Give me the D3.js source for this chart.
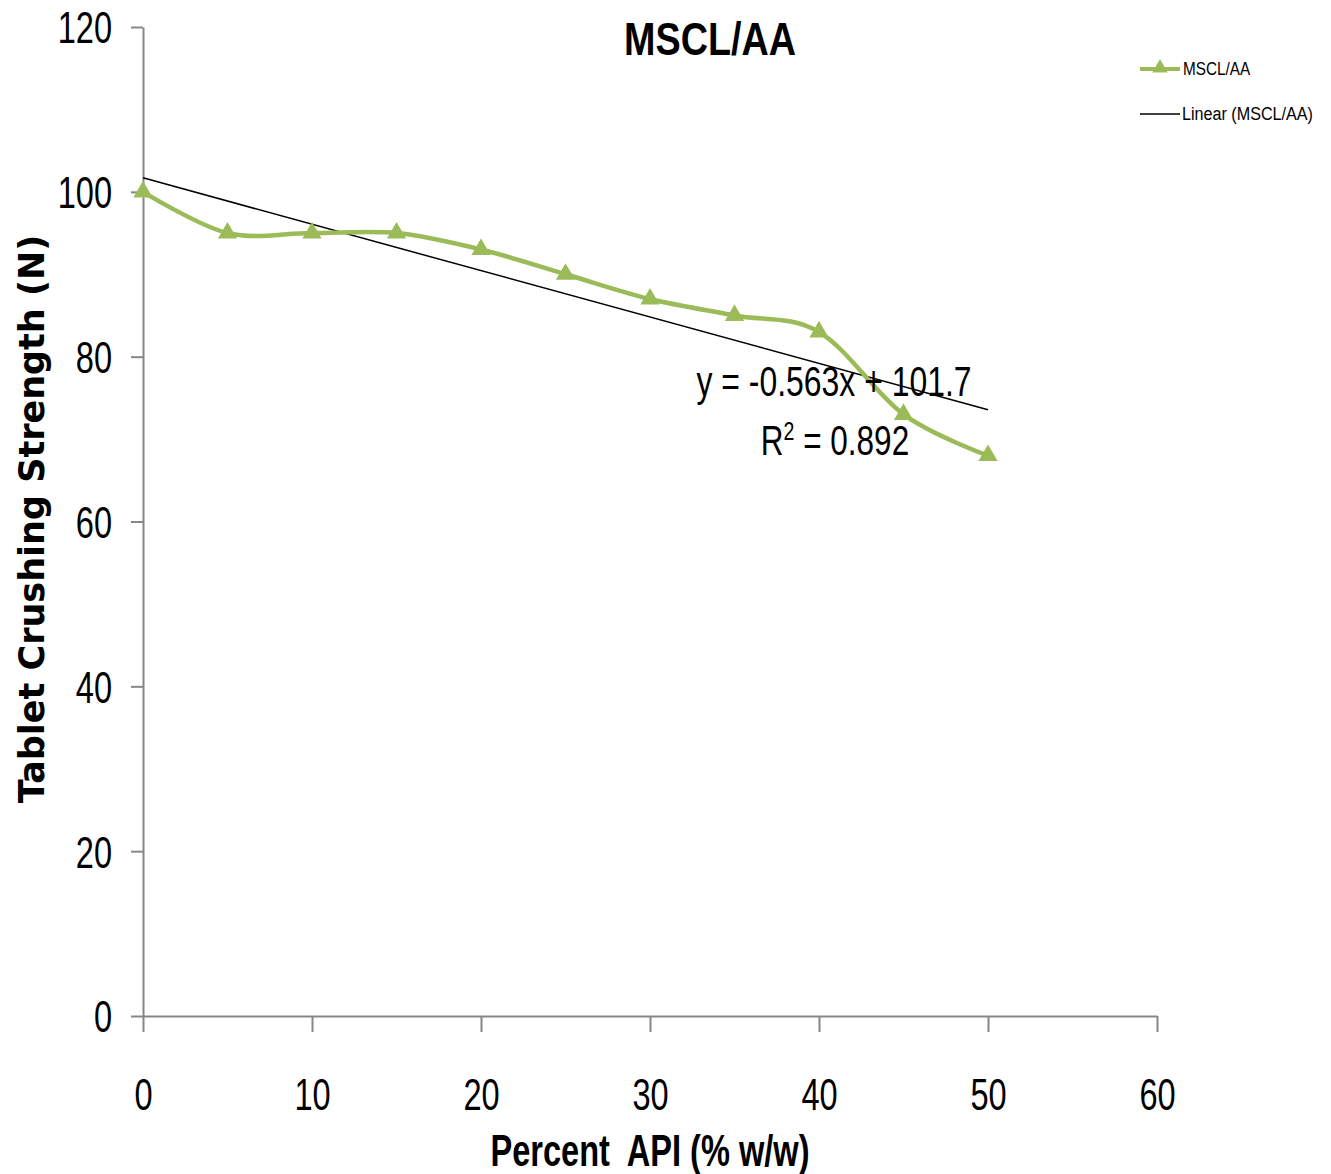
<!DOCTYPE html>
<html>
<head>
<meta charset="utf-8">
<script src="https://cdn.jsdelivr.net/npm/d3@7"></script>
<style>
  body { margin: 0; background: #fff; }
  .narrow { font-family: "Liberation Sans", Arial, sans-serif; }
</style>
</head>
<body>
<div id="chart"></div>
<script>
// percent API and measured crushing strength
var apiPercent = [0, 5, 10, 15, 20, 25, 30, 35, 40, 45, 50];
var strength = [100, 95, 95, 95, 93, 90, 87, 85, 83, 73, 68];
var xTicks = [0, 10, 20, 30, 40, 50, 60];
var yTicks = [0, 20, 40, 60, 80, 100, 120];
var trendSlope = -0.563, trendIntercept = 101.7;

var width = 1331, height = 1174;
var mLeft = 143, mRight = 1157, mTop = 27, mBottom = 1016;
var green = "#9bbb59", axisGrey = "#868686";

// squeeze a text horizontally (the original uses a condensed face)
function condense(sel, f) {
    sel.each(function () {
        var w = this.getComputedTextLength();
        d3.select(this).attr("textLength", w * f).attr("lengthAdjust", "spacingAndGlyphs");
    });
}

var svg = d3.select("#chart").append("svg")
    .attr("width", width)
    .attr("height", height);

var x = d3.scaleLinear().domain([0, 60]).range([mLeft, mRight]);
var y = d3.scaleLinear().domain([0, 120]).range([mBottom, mTop]);

// axes
var xAxis = svg.append("g")
    .attr("transform", "translate(0," + mBottom + ")")
    .call(d3.axisBottom(x).tickValues(xTicks).tickSize(16).tickSizeOuter(0));
var yAxis = svg.append("g")
    .attr("transform", "translate(" + mLeft + ",0)")
    .call(d3.axisLeft(y).tickValues(yTicks).tickSize(12).tickSizeOuter(0));

[xAxis, yAxis].forEach(function (g) {
    g.select(".domain").attr("stroke", axisGrey).attr("stroke-width", 2);
    g.selectAll(".tick line").attr("stroke", axisGrey).attr("stroke-width", 2);
    g.selectAll(".tick text")
        .attr("class", "narrow")
        .attr("fill", "#000")
        .style("font-size", "44px");
});
xAxis.selectAll(".tick text").attr("y", 94).attr("dy", 0);
yAxis.selectAll(".tick text").attr("x", -31).attr("dy", "0.36em");
condense(xAxis.selectAll(".tick text"), 0.74);
condense(yAxis.selectAll(".tick text"), 0.74);

// trend line
var trend = [0, 50].map(function (v) { return [v, trendSlope * v + trendIntercept]; });
svg.append("line")
    .attr("x1", x(trend[0][0])).attr("y1", y(trend[0][1]))
    .attr("x2", x(trend[1][0])).attr("y2", y(trend[1][1]))
    .attr("stroke", "#000").attr("stroke-width", 1.5);

// smoothed series
var line = d3.line()
    .x(function (d, i) { return x(apiPercent[i]); })
    .y(function (d) { return y(d); })
    .curve(d3.curveCardinal.tension(0));

svg.append("path")
    .datum(strength)
    .attr("d", line)
    .attr("fill", "none")
    .attr("stroke", green)
    .attr("stroke-width", 4.5);

var tri = d3.symbol().type(d3.symbolTriangle).size(160);
svg.selectAll(".marker")
    .data(strength)
    .enter().append("path")
    .attr("class", "marker")
    .attr("d", tri)
    .attr("transform", function (d, i) { return "translate(" + x(apiPercent[i]) + "," + y(d) + ")"; })
    .attr("fill", green);

// equation
var eq = svg.append("text").attr("class", "narrow")
    .attr("x", 834).attr("y", 396)
    .attr("text-anchor", "middle")
    .style("font-size", "42px")
    .text("y = -0.563x + 101.7");
condense(eq, 0.76);

var r2 = svg.append("g").attr("transform", "translate(835,455) scale(0.75,1)")
    .append("text").attr("class", "narrow")
    .attr("text-anchor", "middle")
    .style("font-size", "42px");
r2.append("tspan").text("R");
r2.append("tspan").attr("dy", -15).style("font-size", "26px").text("2");
r2.append("tspan").attr("dy", 15).text(" = 0.892");

// title
var title = svg.append("text").attr("class", "narrow")
    .attr("x", 710).attr("y", 55)
    .attr("text-anchor", "middle")
    .style("font-size", "46px").style("font-weight", "bold")
    .text("MSCL/AA");
condense(title, 0.82);

// axis titles
var xTitle = svg.append("text").attr("class", "narrow")
    .attr("x", (mLeft + mRight) / 2).attr("y", 1166)
    .attr("text-anchor", "middle")
    .style("white-space", "pre")
    .style("font-size", "44px").style("font-weight", "bold")
    .text("Percent  API (% w/w)");
condense(xTitle, 0.74);

svg.append("text")
    .attr("transform", "translate(44,519) rotate(-90)")
    .attr("text-anchor", "middle")
    .style("font-family", "'DejaVu Sans', sans-serif")
    .style("font-size", "35px").style("font-weight", "bold")
    .text("Tablet Crushing Strength (N)");

// legend
var legend = svg.append("g").attr("class", "narrow").style("font-size", "18px");
legend.append("line").attr("x1", 1140).attr("x2", 1180).attr("y1", 69).attr("y2", 69)
    .attr("stroke", green).attr("stroke-width", 4);
legend.append("path").attr("d", tri).attr("transform", "translate(1160,68) scale(0.8)").attr("fill", green);
condense(legend.append("text").attr("x", 1183).attr("y", 75).text("MSCL/AA"), 0.85);
legend.append("line").attr("x1", 1140).attr("x2", 1180).attr("y1", 114).attr("y2", 114)
    .attr("stroke", "#000").attr("stroke-width", 1.5);
legend.append("text").attr("x", 1182).attr("y", 120)
    .attr("textLength", 131).attr("lengthAdjust", "spacingAndGlyphs")
    .text("Linear (MSCL/AA)");
</script>
</body>
</html>
